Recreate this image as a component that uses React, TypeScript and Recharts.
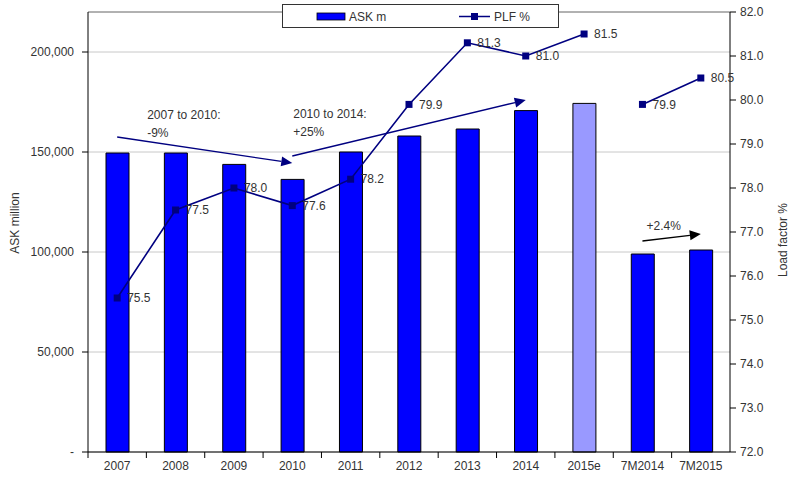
import React from "react";
import {
  ComposedChart,
  Bar,
  Line,
  XAxis,
  YAxis,
  CartesianGrid,
  Cell,
  LabelList,
  ReferenceLine,
} from "recharts";

const categories = ["2007", "2008", "2009", "2010", "2011", "2012", "2013", "2014", "2015e", "7M2014", "7M2015"];
const askValues = [149500, 149500, 143800, 136300, 150000, 158000, 161500, 170700, 174300, 99000, 101000];
const plfAnnual = [75.5, 77.5, 78.0, 77.6, 78.2, 79.9, 81.3, 81.0, 81.5, null, null];
const plfSevenMonths = [null, null, null, null, null, null, null, null, null, 79.9, 80.5];
const estimateCategory = "2015e";
const leftTicks = [0, 50000, 100000, 150000, 200000];
const rightTicks = [72, 73, 74, 75, 76, 77, 78, 79, 80, 81, 82];

// annotation arrows: from / to in (category, ASK value)
const arrowFrom = ["2007", "2010", "7M2014"];
const arrowTo = ["2010", "2014", "7M2015"];
const arrowFromValue = [157500, 148000, 105500];
const arrowToValue = [144500, 176000, 109000];
const arrowText = [["2007 to 2010:", "-9%"], ["2010 to 2014:", "+25%"], ["+2.4%"]];

const FONT = "'Liberation Sans', Arial, sans-serif";
const NAVY = "#000080";
const TEXT = "#333333";

const data = categories.map((c, i) => ({
  cat: c,
  ask: askValues[i],
  plf: plfAnnual[i],
  plf7m: plfSevenMonths[i],
}));

const fmt = (v: number) => (v === 0 ? "-" : v.toLocaleString("en-US"));

const SquareDot = (props: any) => {
  const { cx, cy, value } = props;
  if (value == null || cx == null || cy == null) return <g />;
  return <rect x={cx - 3.5} y={cy - 3.5} width={7} height={7} fill={NAVY} />;
};

const CatTick = (props: any) => {
  const { x, y, payload } = props;
  const half = payload && payload.offset ? payload.offset : 29.2;
  return (
    <g>
      <line x1={x - half} y1={y} x2={x - half} y2={y + 6} stroke="#000" />
      <text x={x} y={y + 18} textAnchor="middle" fontSize={12} fill={TEXT} fontFamily={FONT}>
        {payload.value}
      </text>
    </g>
  );
};

const makeArrow = (idx: number) => (props: any) => {
  const { x1, y1, x2, y2 } = props;
  if (x1 == null) return <g />;
  const color = idx === 2 ? "#000" : NAVY;
  const ang = Math.atan2(y2 - y1, x2 - x1);
  const len = 11;
  const w = 5;
  const bx = x2 - len * Math.cos(ang);
  const by = y2 - len * Math.sin(ang);
  const px = -Math.sin(ang) * w;
  const py = Math.cos(ang) * w;
  const lines = arrowText[idx];
  // text sits above the arrow start, like the original callouts
  const tx = idx === 0 ? x1 + 30 : idx === 1 ? x1 + 1 : x1 + 4;
  const ty = idx === 0 ? y1 - 18 : idx === 1 ? y1 - 38 : y1 - 11;
  return (
    <g>
      <line x1={x1} y1={y1} x2={bx} y2={by} stroke={color} strokeWidth={1.3} />
      <polygon points={`${x2},${y2} ${bx + px},${by + py} ${bx - px},${by - py}`} fill={color} />
      <text x={tx} y={ty} fontSize={12} fill={TEXT} fontFamily={FONT}>
        {lines.map((t, k) => (
          <tspan key={k} x={tx} dy={k === 0 ? 0 : 18}>
            {t}
          </tspan>
        ))}
      </text>
    </g>
  );
};

const LegendBox = () => (
  <div
    style={{
      position: "absolute",
      left: 282,
      top: 4,
      width: 275,
      height: 22,
      border: "1px solid #333",
      background: "#fff",
    }}
  >
    <svg width={275} height={22} style={{ position: "absolute", left: 0, top: 0 }}>
      <rect x={34} y={8} width={28} height={7} fill="#0000ff" stroke="#000" strokeWidth={0.8} />
      <text x={66} y={16} fontSize={12} fill={TEXT} fontFamily={FONT}>ASK m</text>
      <line x1={176} y1={11.5} x2={207} y2={11.5} stroke={NAVY} strokeWidth={1.5} />
      <rect x={188} y={8} width={7} height={7} fill={NAVY} />
      <text x={211} y={16} fontSize={12} fill={TEXT} fontFamily={FONT}>PLF %</text>
    </svg>
  </div>
);

export default function App() {
  return (
    <div style={{ position: "absolute", left: 0, top: 0, width: 800, height: 484, background: "#fff" }}>
      <ComposedChart
        width={800}
        height={484}
        data={data}
        margin={{ top: 12, right: 0, bottom: 2, left: 0 }}
        barCategoryGap={0}
      >
        <CartesianGrid yAxisId="left" vertical={false} horizontal stroke="#c8c8c8" />
        <XAxis
          dataKey="cat"
          height={30}
          interval={0}
          tickLine={false}
          tickSize={0}
          tickMargin={0}
          axisLine={{ stroke: "#000" }}
          tick={<CatTick />}
        />
        <YAxis
          yAxisId="left"
          width={88}
          domain={[0, 220000]}
          ticks={leftTicks}
          tickFormatter={fmt}
          tickSize={6}
          tickMargin={8}
          axisLine={{ stroke: "#000" }}
          tickLine={{ stroke: "#000" }}
          tick={{ fontSize: 12, fill: TEXT, fontFamily: FONT }}
          label={{
            content: () => (
              <text x={15} y={223} transform="rotate(-90 15 223)" textAnchor="middle" dominantBaseline="central" fontSize={12} fill={TEXT} fontFamily={FONT}>
                ASK million
              </text>
            ),
          }}
        />
        <YAxis
          yAxisId="right"
          orientation="right"
          width={70}
          domain={[72, 82]}
          ticks={rightTicks}
          tickFormatter={(v: number) => v.toFixed(1)}
          tickSize={6}
          tickMargin={4}
          axisLine={{ stroke: "#000" }}
          tickLine={{ stroke: "#000" }}
          tick={{ fontSize: 12, fill: TEXT, fontFamily: FONT }}
          label={{
            content: () => (
              <text x={783} y={240} transform="rotate(-90 783 240)" textAnchor="middle" dominantBaseline="central" fontSize={12} fill={TEXT} fontFamily={FONT}>
                Load factor %
              </text>
            ),
          }}
        />
        <ReferenceLine yAxisId="left" y={220000} stroke="#808080" />
        <Bar yAxisId="left" dataKey="ask" barSize={23} stroke="#000" strokeWidth={1} isAnimationActive={false}>
          {data.map((d) => (
            <Cell key={d.cat} fill={d.cat === estimateCategory ? "#9999ff" : "#0000ff"} />
          ))}
        </Bar>
        <Line
          yAxisId="right"
          dataKey="plf"
          stroke={NAVY}
          strokeWidth={1.6}
          dot={<SquareDot />}
          activeDot={false}
          connectNulls={false}
          isAnimationActive={false}
        >
          <LabelList dataKey="plf" position="right" offset={10} formatter={(v: any) => (v == null ? "" : Number(v).toFixed(1))} style={{ fontSize: 12, fill: TEXT, fontFamily: FONT }} />
        </Line>
        <Line
          yAxisId="right"
          dataKey="plf7m"
          stroke={NAVY}
          strokeWidth={1.6}
          dot={<SquareDot />}
          activeDot={false}
          connectNulls={false}
          isAnimationActive={false}
        >
          <LabelList dataKey="plf7m" position="right" offset={10} formatter={(v: any) => (v == null ? "" : Number(v).toFixed(1))} style={{ fontSize: 12, fill: TEXT, fontFamily: FONT }} />
        </Line>
        {arrowFrom.map((f, i) => (
          <ReferenceLine
            key={f}
            yAxisId="left"
            segment={[
              { x: f, y: arrowFromValue[i] },
              { x: arrowTo[i], y: arrowToValue[i] },
            ]}
            shape={makeArrow(i)}
          />
        ))}
      </ComposedChart>
      <LegendBox />
    </div>
  );
}
